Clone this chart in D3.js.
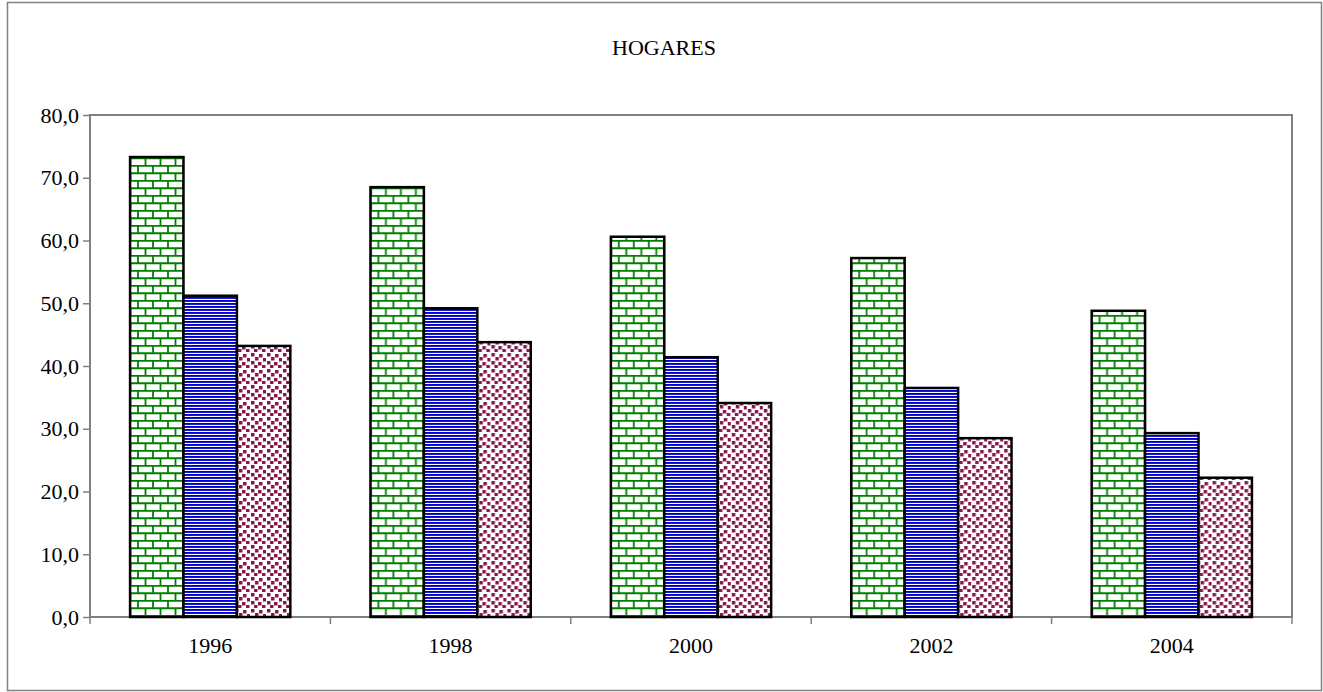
<!DOCTYPE html>
<html>
<head>
<meta charset="utf-8">
<script src="https://cdn.jsdelivr.net/npm/d3@7"></script>
<style>
  body { margin: 0; background: #fff; }
  text { font-family: "Liberation Serif", "Times New Roman", serif; }
</style>
</head>
<body>
<div id="chart"></div>
<script>
var w = 1323;
var h = 692;

var years = ["1996", "1998", "2000", "2002", "2004"];
var seriesNames = ["s1", "s2", "s3"];
var greenValues = [73.3, 68.5, 60.6, 57.2, 48.8];
var blueValues = [51.2, 49.2, 41.4, 36.5, 29.3];
var pinkValues = [43.2, 43.8, 34.1, 28.5, 22.2];
var yTicks = [0, 10, 20, 30, 40, 50, 60, 70, 80];
var title = "HOGARES";

var plot = { left: 90, right: 1292, top: 115, bottom: 617 };

var x0 = d3.scaleBand().domain(years).range([plot.left, plot.right]).padding(0);
var x1 = d3
  .scaleBand()
  .domain(seriesNames)
  .range([0, x0.bandwidth()])
  .paddingInner(0)
  .paddingOuter(0.75);
var y = d3.scaleLinear().domain([0, 80]).range([plot.bottom, plot.top]);

var svg = d3.select("#chart").append("svg").attr("width", w).attr("height", h);

// patterns
var defs = svg.append("defs");

var brick = defs
  .append("pattern")
  .attr("id", "brick")
  .attr("patternUnits", "userSpaceOnUse")
  .attr("width", 15)
  .attr("height", 15);
brick.append("rect").attr("width", 15).attr("height", 15).attr("fill", "#fff");
brick
  .append("path")
  .attr("d", "M0,0.75H15 M0,8.25H15 M3,0V8.25 M10.5,8.25V15")
  .attr("stroke", "#008000")
  .attr("stroke-width", 1.8)
  .attr("fill", "none");

var stripe = defs
  .append("pattern")
  .attr("id", "stripe")
  .attr("patternUnits", "userSpaceOnUse")
  .attr("width", 8)
  .attr("height", 3);
stripe.append("rect").attr("width", 8).attr("height", 3).attr("fill", "#fff");
stripe.append("rect").attr("width", 8).attr("height", 1.9).attr("fill", "#0000c8");

var dots = defs
  .append("pattern")
  .attr("id", "dots")
  .attr("patternUnits", "userSpaceOnUse")
  .attr("width", 16)
  .attr("height", 16);
dots.append("rect").attr("width", 16).attr("height", 16).attr("fill", "#fff");
[[1, 1], [9, 2], [5, 5], [13, 6], [1, 9], [8, 10], [12, 13], [4, 13]].forEach(function (p) {
  dots
    .append("rect")
    .attr("x", p[0])
    .attr("y", p[1])
    .attr("width", 3.5)
    .attr("height", 3.5)
    .attr("fill", "#86184e");
});

var fills = { s1: "url(#brick)", s2: "url(#stripe)", s3: "url(#dots)" };

// outer frame
svg
  .append("rect")
  .attr("x", 7.5)
  .attr("y", 2.5)
  .attr("width", 1314)
  .attr("height", 688)
  .attr("fill", "#fff")
  .attr("stroke", "#808080")
  .attr("stroke-width", 1.5);

svg
  .append("text")
  .attr("x", 664)
  .attr("y", 55)
  .attr("text-anchor", "middle")
  .style("font-size", "22px")
  .attr("fill", "#000")
  .text(title);

// plot border
svg
  .append("rect")
  .attr("x", plot.left)
  .attr("y", plot.top)
  .attr("width", plot.right - plot.left)
  .attr("height", plot.bottom - plot.top)
  .attr("fill", "#fff")
  .attr("stroke", "#808080")
  .attr("stroke-width", 2);

// y axis
var yAxis = d3
  .axisLeft(y)
  .tickValues(yTicks)
  .tickSize(7)
  .tickPadding(4)
  .tickFormat(function (d) {
    return d3.format(".1f")(d).replace(".", ",");
  });
var gy = svg
  .append("g")
  .attr("transform", "translate(" + plot.left + ",0)")
  .attr("font-size", null)
  .attr("font-family", null)
  .call(yAxis);
gy.select(".domain").remove();
gy.selectAll(".tick line").attr("stroke", "#808080").attr("stroke-width", 1.5);
gy.selectAll(".tick text").style("font-size", "22px").attr("fill", "#000");

// x axis ticks at category boundaries
var boundaries = years.map(function (d) { return x0(d); }).concat([plot.right]);
svg
  .selectAll(".xtick")
  .data(boundaries)
  .enter()
  .append("line")
  .attr("x1", function (d) { return d; })
  .attr("x2", function (d) { return d; })
  .attr("y1", plot.bottom)
  .attr("y2", plot.bottom + 7)
  .attr("stroke", "#808080")
  .attr("stroke-width", 1.5);

svg
  .selectAll(".xlabel")
  .data(years)
  .enter()
  .append("text")
  .attr("x", function (d) { return x0(d) + x0.bandwidth() / 2; })
  .attr("y", 653)
  .attr("text-anchor", "middle")
  .style("font-size", "22px")
  .attr("fill", "#000")
  .text(function (d) { return d; });

// bars
var data = years.map(function (yr, i) {
  return [
    { year: yr, key: "s1", value: greenValues[i] },
    { year: yr, key: "s2", value: blueValues[i] },
    { year: yr, key: "s3", value: pinkValues[i] }
  ];
});

svg
  .selectAll(".group")
  .data(data)
  .enter()
  .append("g")
  .attr("transform", function (d) { return "translate(" + x0(d[0].year) + ",0)"; })
  .selectAll("rect")
  .data(function (d) { return d; })
  .enter()
  .append("rect")
  .attr("x", function (d) { return x1(d.key); })
  .attr("y", function (d) { return y(d.value); })
  .attr("width", x1.bandwidth())
  .attr("height", function (d) { return y(0) - y(d.value); })
  .attr("fill", function (d) { return fills[d.key]; })
  .attr("stroke", "#000")
  .attr("stroke-width", 2.5);
</script>
</body>
</html>
